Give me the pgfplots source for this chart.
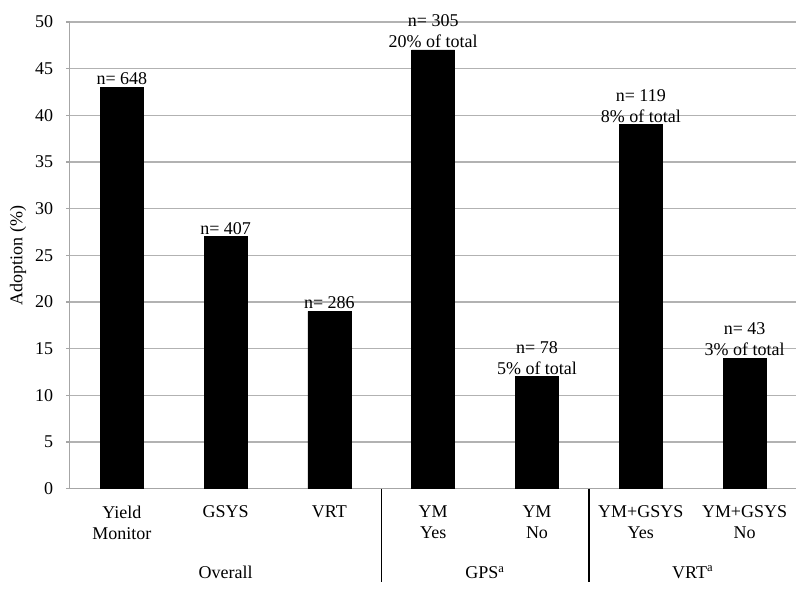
\documentclass[border=0pt]{standalone}
\usepackage{pgfplots}
\pgfplotsset{compat=1.18}
\usepackage{fontspec}
\setmainfont{Liberation Serif}
\begin{document}
\fontsize{13.5}{15.75}\selectfont
\begin{tikzpicture}
\begin{axis}[
  scale only axis,
  width=545.25pt, height=350.25pt,
  xmin=-0.5, xmax=6.5,
  ymin=0, ymax=50,
  ytick={0,5,...,50},
  xtick={0,...,6},
  xticklabels={{Yield\\Monitor},GSYS,VRT,{YM\\Yes},{YM\\No},{YM+GSYS\\Yes},{YM+GSYS\\No}},
  xticklabel style={align=center, yshift=-5pt},
  yticklabel style={xshift=-5pt},
  /pgf/number format/assume math mode=true,
  ymajorgrids, grid style={color=black!30, line width=0.8pt},
  axis x line*=bottom, axis y line*=left,
  axis line style={color=black!35, line width=0.8pt},
  y axis line style={-}, x axis line style={-},
  major tick length=3pt,
  xtick style={draw=none},
  ytick style={color=black!35, line width=0.8pt},
  tick align=outside,
  ticklabel style={font=\fontsize{13.5}{15.75}\selectfont},
  clip=false,
]
\addplot[ybar, bar width=32.25pt, fill=black, draw=black] coordinates {
  (0,43) (1,27) (2,19) (3,47) (4,12) (5,39) (6,14)
};
\node[anchor=south, align=center, inner sep=1.5pt] at (axis cs:0,43) {n= 648};
\node[anchor=south, align=center, inner sep=1.5pt] at (axis cs:1,27) {n= 407};
\node[anchor=south, align=center, inner sep=1.5pt] at (axis cs:2,19) {n= 286};
\node[anchor=south, align=center, inner sep=1.5pt] at (axis cs:3,47) {n= 305\\20\% of total};
\node[anchor=south, align=center, inner sep=1.5pt] at (axis cs:4,12) {n= 78\\5\% of total};
\node[anchor=south, align=center, inner sep=1.5pt] at (axis cs:5,39) {n= 119\\8\% of total};
\node[anchor=south, align=center, inner sep=1.5pt] at (axis cs:6,14) {n= 43\\3\% of total};
\draw[black, line width=1pt] (axis cs:2.5,0) -- ([yshift=-70pt]axis cs:2.5,0);
\draw[black, line width=1pt] (axis cs:4.5,0) -- ([yshift=-70pt]axis cs:4.5,0);
\node at ([yshift=-63pt]axis cs:1,0) {Overall};
\node at ([yshift=-63pt]axis cs:3.5,0) {GPS\textsuperscript{a}};
\node at ([yshift=-63pt]axis cs:5.5,0) {VRT\textsuperscript{a}};
\node[rotate=90] at ([xshift=-39pt]axis cs:-0.5,25) {Adoption (\%)};
\end{axis}
\path[use as bounding box] (-52.5pt,-75pt) rectangle (545.25pt,366.75pt);
\end{tikzpicture}
\end{document}
